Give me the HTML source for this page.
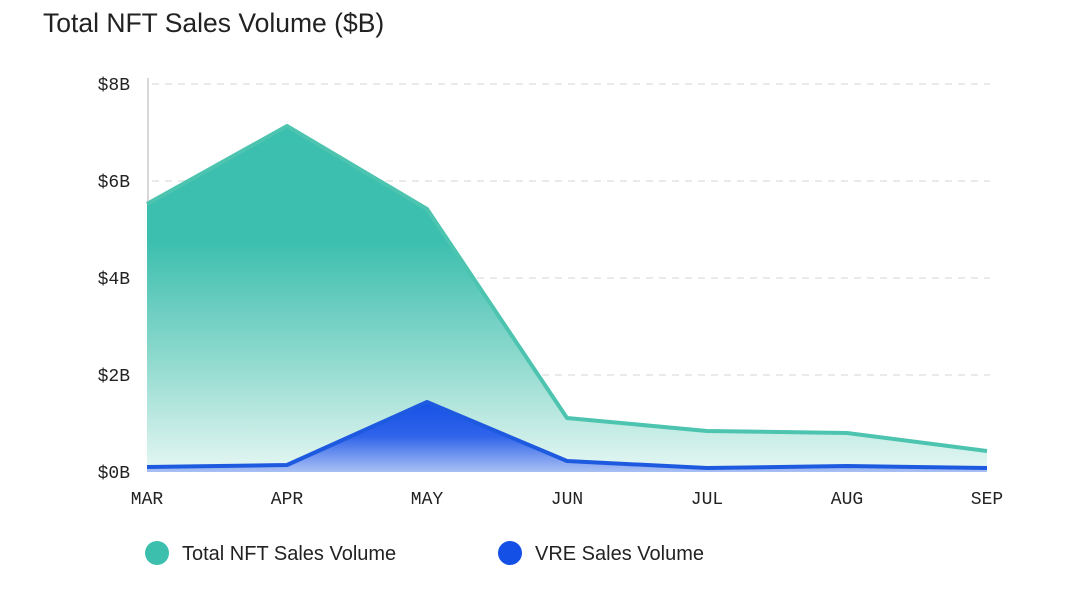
<!DOCTYPE html>
<html><head><style>
body{margin:0;background:#fff;width:1080px;height:584px;overflow:hidden}
</style></head><body>
<svg width="1080" height="584" xmlns="http://www.w3.org/2000/svg">
<defs>
<linearGradient id="g1" x1="0" y1="120" x2="0" y2="472" gradientUnits="userSpaceOnUse">
<stop offset="0" stop-color="#3bbfae"/><stop offset="0.35" stop-color="#3dbfaf"/>
<stop offset="0.7" stop-color="#94dbd0"/><stop offset="1" stop-color="#e6f7f3"/>
</linearGradient>
<linearGradient id="g2" x1="0" y1="400" x2="0" y2="472" gradientUnits="userSpaceOnUse">
<stop offset="0" stop-color="#1450e6"/><stop offset="0.5" stop-color="#2f64ea"/><stop offset="1" stop-color="#a9c0f3"/>
</linearGradient>
</defs>
<text x="43" y="32" font-family="Liberation Sans, sans-serif" font-size="26.5" fill="#222">Total NFT Sales Volume ($B)</text>
<g stroke="#ddd" stroke-width="1.2" stroke-dasharray="7,6">
<line x1="152" y1="84" x2="990" y2="84"/><line x1="152" y1="181" x2="990" y2="181"/>
<line x1="152" y1="278" x2="990" y2="278"/><line x1="152" y1="375" x2="990" y2="375"/>
</g>
<line x1="148" y1="78" x2="148" y2="472" stroke="#ccc" stroke-width="1.5"/>
<g font-family="Liberation Mono, monospace" font-size="18" fill="#222" text-anchor="end">
<text x="130" y="90">$8B</text><text x="130" y="187">$6B</text><text x="130" y="284">$4B</text><text x="130" y="381">$2B</text><text x="130" y="478">$0B</text>
</g>
<polygon points="147,204 287,126 427,209 567,418 707,431 847,433 987,451 987,472 147,472" fill="url(#g1)"/>
<polyline points="147,204 287,126 427,209 567,418 707,431 847,433 987,451" fill="none" stroke="#4cc4b0" stroke-width="4" stroke-linejoin="round"/>
<polygon points="147,467 287,465 427,402 567,461 707,468 847,466 987,468 987,472 147,472" fill="url(#g2)"/>
<polyline points="147,467 287,465 427,402 567,461 707,468 847,466 987,468" fill="none" stroke="#1e5ae0" stroke-width="4" stroke-linejoin="round"/>
<g font-family="Liberation Mono, monospace" font-size="18" fill="#222" text-anchor="middle">
<text x="147" y="504">MAR</text><text x="287" y="504">APR</text><text x="427" y="504">MAY</text><text x="567" y="504">JUN</text><text x="707" y="504">JUL</text><text x="847" y="504">AUG</text><text x="987" y="504">SEP</text>
</g>
<circle cx="157" cy="553" r="12" fill="#3dbfae"/>
<text x="182" y="560" font-family="Liberation Sans, sans-serif" font-size="20" fill="#222">Total NFT Sales Volume</text>
<circle cx="510" cy="553" r="12" fill="#1450e6"/>
<text x="535" y="560" font-family="Liberation Sans, sans-serif" font-size="20" fill="#222">VRE Sales Volume</text>
</svg>
</body></html>
